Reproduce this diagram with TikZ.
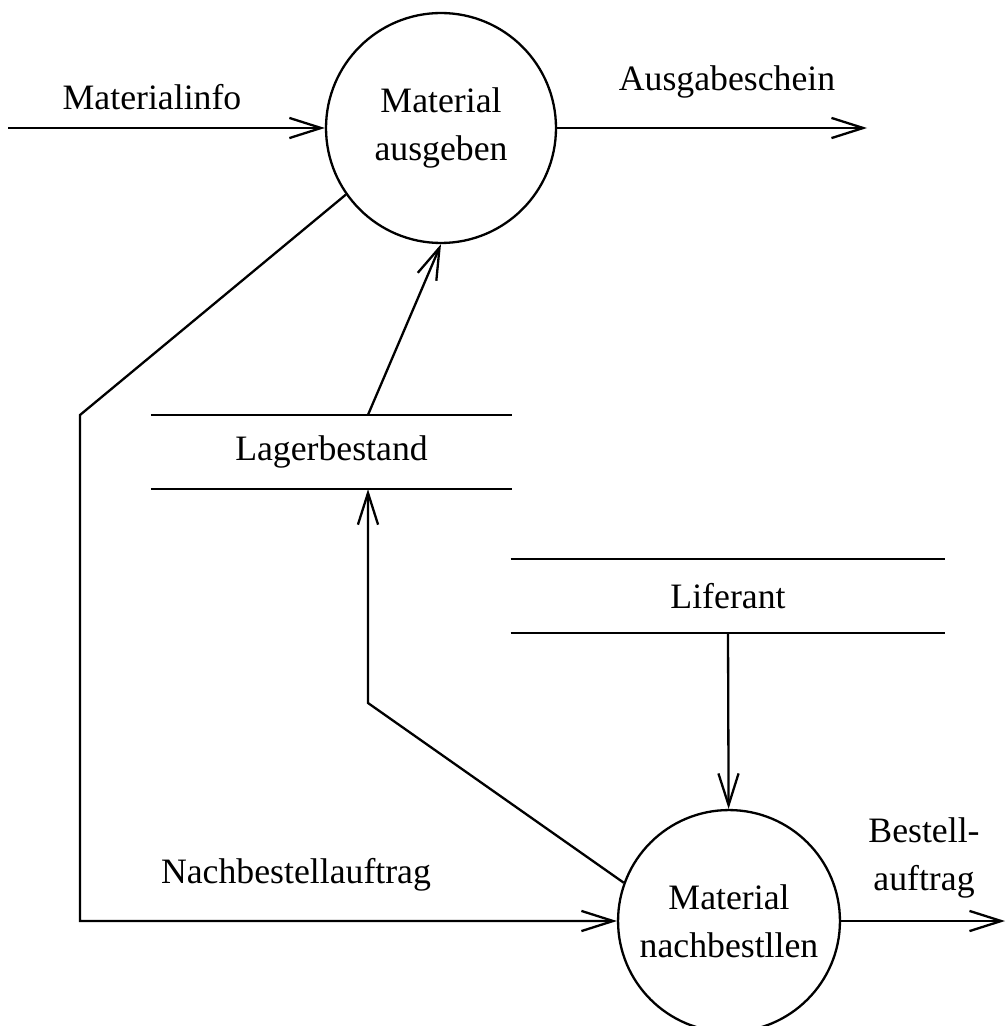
\documentclass[tikz,border=0pt]{standalone}
\usepackage{fontspec}
\setmainfont{Liberation Serif}
\usetikzlibrary{arrows.meta}

\begin{document}
\begin{tikzpicture}[x=0.347pt,y=-0.347pt,line width=0.8pt,>={Straight Barb[length=11pt,width=7pt]},
  font=\fontsize{12.4}{16.7}\selectfont,
  proc/.style={draw,circle,inner sep=0pt,align=center},
  store/.style={minimum height=25pt,inner sep=0pt}]%
\useasboundingbox (0,0) rectangle (1006,1026);
\draw node [proc,minimum size=79.8pt] (ausgeben) at (441,128) {Material\\ausgeben};
\draw node [proc,minimum size=77pt] (nachbest) at (729,921) {Material\\nachbestllen};
\draw node [store,minimum width=124.6pt] (lager) at (331.5,452) {Lagerbestand};
\draw node [store,minimum width=150pt] (liferant) at (728,596) {Liferant};
\draw (lager.north west) -- (lager.north east) (lager.south west) -- (lager.south east);
\draw (liferant.north west) -- (liferant.north east) (liferant.south west) -- (liferant.south east);
\coordinate (infoin) at (8,128);
\coordinate (scheinout) at (867,128);
\coordinate (bestellout) at (1005,921);
\coordinate (knick1) at (80,415);
\coordinate (knick2) at (368,703);
\draw [->] (infoin) -- (ausgeben);
\draw [->] (ausgeben) -- (scheinout);
\draw [->] (knick2 |- lager.north) -- (ausgeben.south);
\draw [->] (ausgeben.215) -- (knick1) |- (nachbest.west);
\draw [->] (nachbest.160) -- (knick2) -- (knick2 |- lager.south);
\draw [->] (liferant.south) -- (nachbest);
\draw [->] (nachbest) -- (bestellout);
\node (infolbl) at (152,97) {Materialinfo};
\node (scheinlbl) at (727,82) {Ausgabeschein};
\node (nachlbl) at (296,875) {Nachbestellauftrag};
\node [align=center] (bestelllbl) at (924,858) {Bestell-\\auftrag};
\end{tikzpicture}
\end{document}
